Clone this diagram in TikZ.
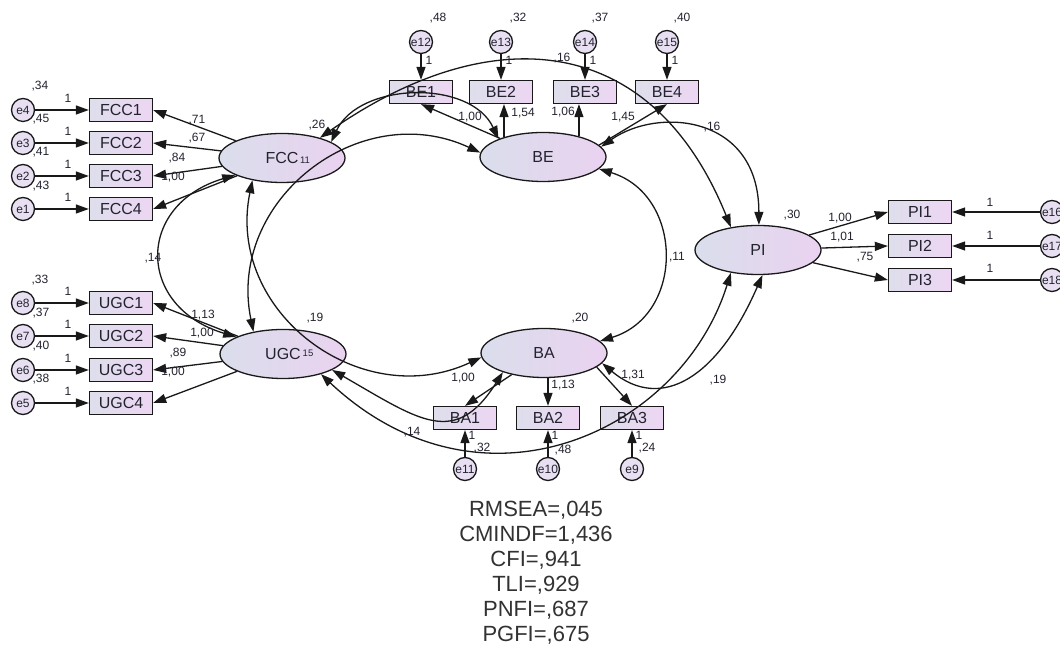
\documentclass[tikz,border=0pt]{standalone}
\usepackage{fontspec}
\setmainfont{Liberation Sans}
\usetikzlibrary{arrows.meta,shapes.geometric}
\definecolor{boxL}{RGB}{222,222,236}
\definecolor{boxR}{RGB}{237,214,243}
\definecolor{ellL}{RGB}{218,222,236}
\definecolor{ellR}{RGB}{234,210,240}
\definecolor{errc}{RGB}{232,224,242}
\definecolor{linec}{RGB}{25,25,25}
\definecolor{txtc}{RGB}{35,35,48}
\definecolor{fitc}{RGB}{50,50,50}
\begin{document}
\begin{tikzpicture}[x=1pt,y=1pt,
  lv/.style={ellipse, draw=linec, line width=1.3pt, left color=ellL, right color=ellR, minimum width=126pt, minimum height=49pt, inner sep=0pt, font=\fontsize{16}{16}\selectfont, text=txtc},
  ov/.style={rectangle, draw=linec, line width=1.3pt, left color=boxL, right color=boxR, minimum width=63pt, minimum height=23pt, inner sep=0pt, font=\fontsize{16}{16}\selectfont, text=txtc},
  err/.style={circle, draw=linec, line width=1.3pt, fill=errc, minimum size=23pt, inner sep=0pt, font=\fontsize{12}{12}\selectfont, text=txtc},
  arr/.style={draw=linec, line width=1.3pt, -{Triangle[length=13pt,width=9pt]}},
  cov/.style={draw=linec, line width=1.3pt, {Triangle[length=13pt,width=9pt]}-{Triangle[length=13pt,width=9pt]}},
  num/.style={font=\fontsize{12}{12}\selectfont, text=txtc, inner sep=0pt},
  small/.style={font=\fontsize{9.5}{9.5}\selectfont, text=txtc, inner sep=0pt},
  fitstat/.style={font=\fontsize{22}{22}\selectfont, text=fitc, inner sep=0pt}
]
\useasboundingbox (0,0) rectangle (1060,655);
\clip (0,0) rectangle (1060,655);
\fill[white] (0,0) rectangle (1060,655);

% latent variables
\node[lv] (FCC) at (282,497) {FCC};
\node[lv] (UGC) at (283,301) {UGC};
\node[lv] (BE) at (543,498) {BE};
\node[lv] (BA) at (544,302) {BA};
\node[lv] (PI) at (758,405) {PI};
\node[small] (fccs) at (305,495) {11};
\node[small] (ugcs) at (308,302) {15};

% observed
\node[ov] (FCC1) at (121,545) {FCC1};
\node[ov] (FCC2) at (121,512) {FCC2};
\node[ov] (FCC3) at (121,479) {FCC3};
\node[ov] (FCC4) at (121,446) {FCC4};
\node[ov] (UGC1) at (121,352) {UGC1};
\node[ov] (UGC2) at (121,319) {UGC2};
\node[ov] (UGC3) at (121,285) {UGC3};
\node[ov] (UGC4) at (121,252) {UGC4};
\node[ov] (BE1) at (421,563) {BE1};
\node[ov] (BE2) at (501,563) {BE2};
\node[ov] (BE3) at (585,563) {BE3};
\node[ov] (BE4) at (667,563) {BE4};
\node[ov] (BA1) at (465,237) {BA1};
\node[ov] (BA2) at (548,237) {BA2};
\node[ov] (BA3) at (632,237) {BA3};
\node[ov] (PI1) at (920,443) {PI1};
\node[ov] (PI2) at (920,409) {PI2};
\node[ov] (PI3) at (920,375) {PI3};

% errors
\node[err] (e4) at (23,545) {e4};
\node[err] (e3) at (23,512) {e3};
\node[err] (e2) at (23,479) {e2};
\node[err] (e1) at (23,446) {e1};
\node[err] (e8) at (23,352) {e8};
\node[err] (e7) at (23,319) {e7};
\node[err] (e6) at (23,285) {e6};
\node[err] (e5) at (23,252) {e5};
\node[err] (e12) at (421,613) {e12};
\node[err] (e13) at (501,613) {e13};
\node[err] (e14) at (585,613) {e14};
\node[err] (e15) at (667,613) {e15};
\node[err] (e11) at (465,186) {e11};
\node[err] (e10) at (548,186) {e10};
\node[err] (e9) at (632,186) {e9};
\node[err] (e16) at (1052,443) {e16};
\node[err] (e17) at (1052,409) {e17};
\node[err] (e18) at (1052,375) {e18};

% error arrows
\draw[arr] (e4) -- (FCC1);
\draw[arr] (e3) -- (FCC2);
\draw[arr] (e2) -- (FCC3);
\draw[arr] (e1) -- (FCC4);
\draw[arr] (e8) -- (UGC1);
\draw[arr] (e7) -- (UGC2);
\draw[arr] (e6) -- (UGC3);
\draw[arr] (e5) -- (UGC4);
\draw[arr] (e12) -- (BE1);
\draw[arr] (e13) -- (BE2);
\draw[arr] (e14) -- (BE3);
\draw[arr] (e15) -- (BE4);
\draw[arr] (e11) -- (BA1);
\draw[arr] (e10) -- (BA2);
\draw[arr] (e9) -- (BA3);
\draw[arr] (e16) -- (PI1);
\draw[arr] (e17) -- (PI2);
\draw[arr] (e18) -- (PI3);

% loadings
\foreach \i in {1,...,4} \draw[arr] (FCC) -- (FCC\i.east);
\foreach \i in {1,...,4} \draw[arr] (UGC) -- (UGC\i.east);
\draw[arr] (BE) -- (BE1.south);
\draw[arr] (BE.153) -- (BE.153 |- BE2.south);
\draw[arr] (BE.30) -- (BE.30 |- BE3.south);
\draw[arr] (BE.12) -- (BE4.south);
\draw[arr] (BA) -- (BA1.north);
\draw[arr] (BA2.north |- BA.south) -- (BA2.north);
\draw[arr] (BA.-15) -- (BA3.north);
\foreach \i in {1,2,3} \draw[arr] (PI) -- (PI\i.west);

% covariances
\draw[cov] (FCC.200) .. controls +(-100,-30) and +(-100,30) .. (UGC.160);
\draw[cov] (UGC.143) .. controls +(-27,131) and +(-121,56) .. (BE.176);
\draw[cov] (FCC.217) .. controls +(-27,-131) and +(-121,-56) .. (BA.184);
\draw[cov] (FCC.18) .. controls +(28,60) and +(-28,60) .. (BE.158);
\draw[cov] (FCC.28) .. controls +(172,120) and +(-79,195) .. (PI.140);
\draw[cov] (BE.10) .. controls +(57,40) and +(0,110) .. (PI.88);
\draw[cov] (BE.-12) .. controls +(85,-26) and +(85,26) .. (BA.12);
\draw[cov] (BA.-10) .. controls +(60,-50) and +(-44,-101) .. (PI.-80);
\draw[cov] (UGC.-28) .. controls +(160,-150) and +(-50,-160) .. (PI.-140);
\draw[cov] (UGC.-18) .. controls +(87,-50) and +(-48,-76) .. (BA.-155);

% variance labels
\node[num] at (40,569) {,34};
\node[num] at (41,536) {,45};
\node[num] at (41,503) {,41};
\node[num] at (41,469) {,43};
\node[num] at (40,375) {,33};
\node[num] at (41,342) {,37};
\node[num] at (41,309) {,40};
\node[num] at (41,276) {,38};
\node[num] at (438,637) {,48};
\node[num] at (518,637) {,32};
\node[num] at (600,637) {,37};
\node[num] at (682,637) {,40};
\node[num] at (482,207) {,32};
\node[num] at (563,205) {,48};
\node[num] at (647,207) {,24};
\node[num] at (317,530) {,26};
\node[num] at (315,337) {,19};
\node[num] at (580,337) {,20};
\node[num] at (792,440) {,30};

% regression weight 1 labels
\foreach \y in {557,524,491,458,364,331,297,264} \node[num] at (68,\y) {1};
\foreach \x in {429,509,593,675} \node[num] at (\x,595) {1};
\foreach \x in {472,555,639} \node[num] at (\x,220) {1};
\foreach \y in {453,420,387} \node[num] at (990,\y) {1};

% loadings labels
\node[num] at (197,535) {,71};
\node[num] at (197,517) {,67};
\node[num] at (177,497) {,84};
\node[num] at (173,478) {1,00};
\node[num] at (203,340) {1,13};
\node[num] at (202,322) {1,00};
\node[num] at (178,302) {,89};
\node[num] at (173,283) {1,00};
\node[num] at (470,538) {1,00};
\node[num] at (523,542) {1,54};
\node[num] at (563,543) {1,06};
\node[num] at (623,538) {1,45};
\node[num] at (463,277) {1,00};
\node[num] at (563,270) {1,13};
\node[num] at (633,280) {1,31};
\node[num] at (840,437) {1,00};
\node[num] at (842,418) {1,01};
\node[num] at (865,398) {,75};

% covariance labels
\node[num] at (153,397) {,14};
\node[num] at (562,597) {,16};
\node[num] at (712,528) {,16};
\node[num] at (677,398) {,11};
\node[num] at (718,275) {,19};
\node[num] at (412,223) {,14};

% fit statistics
\node[fitstat] at (536,145) {RMSEA=,045};
\node[fitstat] at (536,120) {CMINDF=1,436};
\node[fitstat] at (536,95) {CFI=,941};
\node[fitstat] at (536,70) {TLI=,929};
\node[fitstat] at (536,45) {PNFI=,687};
\node[fitstat] at (536,20) {PGFI=,675};
\end{tikzpicture}
\end{document}
